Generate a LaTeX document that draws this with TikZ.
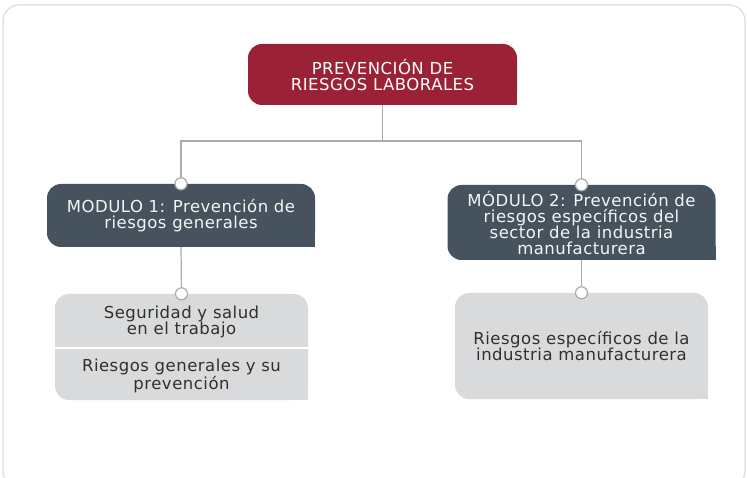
\documentclass[tikz,border=0pt]{standalone}
\usepackage{fontspec}
\setmainfont{DejaVu Sans}[LetterSpace=3]
\definecolor{granate}{HTML}{9B2236}
\definecolor{pizarra}{HTML}{46525D}
\definecolor{grisclaro}{HTML}{D9DADC}
\definecolor{gristexto}{HTML}{303030}
\definecolor{grislinea}{HTML}{ABABAB}
\definecolor{marco}{HTML}{E2E2E2}
\begin{document}
\begin{tikzpicture}[x=1pt,y=-1pt,
  caja/.style={rounded corners=14pt, inner sep=0pt, align=center,
    font=\fontsize{16.5}{16}\selectfont},
  titulo/.style={caja, fill=granate, text=white, minimum width=269pt, minimum height=61pt},
  modulo/.style={caja, fill=pizarra, text=white!94!pizarra, minimum width=268pt},
  tema/.style={caja, fill=grisclaro, text=gristexto, minimum width=253pt, minimum height=106pt},
  texto/.style={align=center, inner sep=0pt, text=gristexto, font=\fontsize{16.5}{16}\selectfont},
  enlace/.style={draw=grislinea, line width=1.2pt},
  punto/.style={circle, draw=grislinea, fill=white, line width=1.2pt, minimum size=12pt, inner sep=0pt}]
\useasboundingbox (0,0) rectangle (747,478);
\draw[marco, line width=1.5pt, rounded corners=16pt] (3,5) rectangle (745,487);

\node[titulo] (top) at (382.5,74.5) {PREVENCIÓN DE\\RIESGOS LABORALES};
\node[modulo, minimum height=63pt] (m1) at (181,215.5) {MODULO 1: Prevención de\\riesgos generales};
\node[modulo, minimum height=75pt] (m2) at (581.5,222.5)
  {MÓDULO 2: Prevención de\\riesgos específicos del\\sector de la industria\\manufacturera};
\node[tema] (g1) at (181.5,347) {};
\node[tema] (g2) at (581.5,346) {Riesgos específicos de la\\industria manufacturera};
\foreach \n/\c in {top/granate, m1/pizarra, m2/pizarra, g1/grisclaro, g2/grisclaro}
  \fill[\c] (\n.south east) rectangle ++(-14,-14);

\node[texto] (t1) at (181.5,322) {Seguridad y salud\\en el trabajo};
\node[texto] (t2) at (181.5,376) {Riesgos generales y su\\prevención};
\draw[white, line width=1.5pt] (g1.west |- 0,348) -- (g1.east |- 0,348);

\coordinate (bus) at (top.south |- 0,141);
\draw[enlace] (top.south) -- (bus);
\draw[enlace] (m1.north) |- (bus) -| (m2.north);
\draw[enlace] (m1.south) -- (g1.north);
\draw[enlace] (m2.south) -- (g2.north);
\foreach \n in {m1, m2, g1, g2}
  \node[punto] (p\n) at (\n.north) {};
\end{tikzpicture}
\end{document}
